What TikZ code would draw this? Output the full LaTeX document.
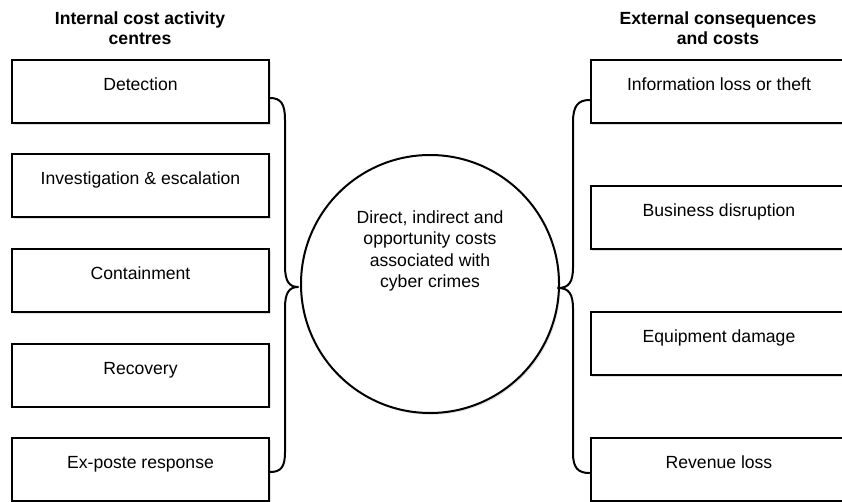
\documentclass[tikz,border=0pt]{standalone}
\usepackage{fontspec}
\setmainfont{Liberation Sans}
\usetikzlibrary{calc,shadows}
\begin{document}
\begin{tikzpicture}[x=1pt,y=-1pt,
  every node/.style={font=\fontsize{17.6}{21.6}\selectfont},
  boxnode/.style={draw=black, line width=2pt, fill=white, rectangle, minimum width=257pt, minimum height=63pt, inner sep=0pt,
     drop shadow={shadow xshift=1.5pt, shadow yshift=-1.8pt, opacity=0.25}},
  lbl/.style={anchor=base, inner sep=0pt, text=black},
  ttl/.style={anchor=base, inner sep=0pt, font=\fontsize{17.6}{21.6}\selectfont\bfseries},
  bracestyle/.style={draw=black, line width=2pt, line join=round, line cap=round},
  ring/.style={draw=black, line width=2pt, circle, fill=white, minimum size=258pt, inner sep=0pt,
     drop shadow={shadow xshift=1.5pt, shadow yshift=-1.8pt, opacity=0.2}}
]
\useasboundingbox[fill=white] (0,0) rectangle (842,502);

% titles
\node[ttl] (t1a) at (140,25) {Internal cost activity};
\node[ttl] (t1b) at (140,44.5) {centres};
\node[ttl] (t2a) at (718,25) {External consequences};
\node[ttl] (t2b) at (718,44.5) {and costs};

% left boxes
\foreach \n/\yy/\txt in {L1/60/Detection, L2/154.5/{Investigation \& escalation}, L3/249/Containment, L4/343.5/Recovery, L5/438/Ex-poste response}{
  \node[boxnode] (\n) at (140.5,\yy+31.5) {};
  \node[lbl] (\n t) at (140.5,\yy+30.5) {\txt};
}

% right boxes
\foreach \n/\yy/\txt in {R1/60/Information loss or theft, R2/186/Business disruption, R3/312/Equipment damage, R4/438/Revenue loss}{
  \node[boxnode] (\n) at (719,\yy+31.5) {};
  \node[lbl] (\n t) at (719,\yy+30.5) {\txt};
}

% circle
\node[ring] (C) at (430,284) {};
\node[align=center, inner sep=0pt, text=black] (Ct) at (430,251) {Direct, indirect and\\opportunity costs\\associated with\\cyber crimes};

% left brace
\coordinate (lb1) at ($(L1.east)+(0,6.5)$);
\coordinate (lb2) at ($(L5.east)+(0,2.5)$);
\coordinate (lbt) at (298,287);
\draw[bracestyle] (lb1) .. controls (281,98) and (285,104) .. (285,120)
  -- (285,266) .. controls (285,281) and (289,287) .. (lbt)
  .. controls (289,287) and (285,293) .. (285,308)
  -- (285,452) .. controls (285,467) and (281,472) .. (lb2);

% right brace
\coordinate (rb1) at ($(R1.west)+(0,8.5)$);
\coordinate (rb2) at ($(R4.west)+(0,3.5)$);
\coordinate (rbt) at (558,288);
\draw[bracestyle] (rb1) .. controls (578,100) and (573,106) .. (573,122)
  -- (573,267) .. controls (573,282) and (569,288) .. (rbt)
  .. controls (569,288) and (573,294) .. (573,309)
  -- (573,453) .. controls (573,468) and (578,473) .. (rb2);
\end{tikzpicture}
\end{document}
